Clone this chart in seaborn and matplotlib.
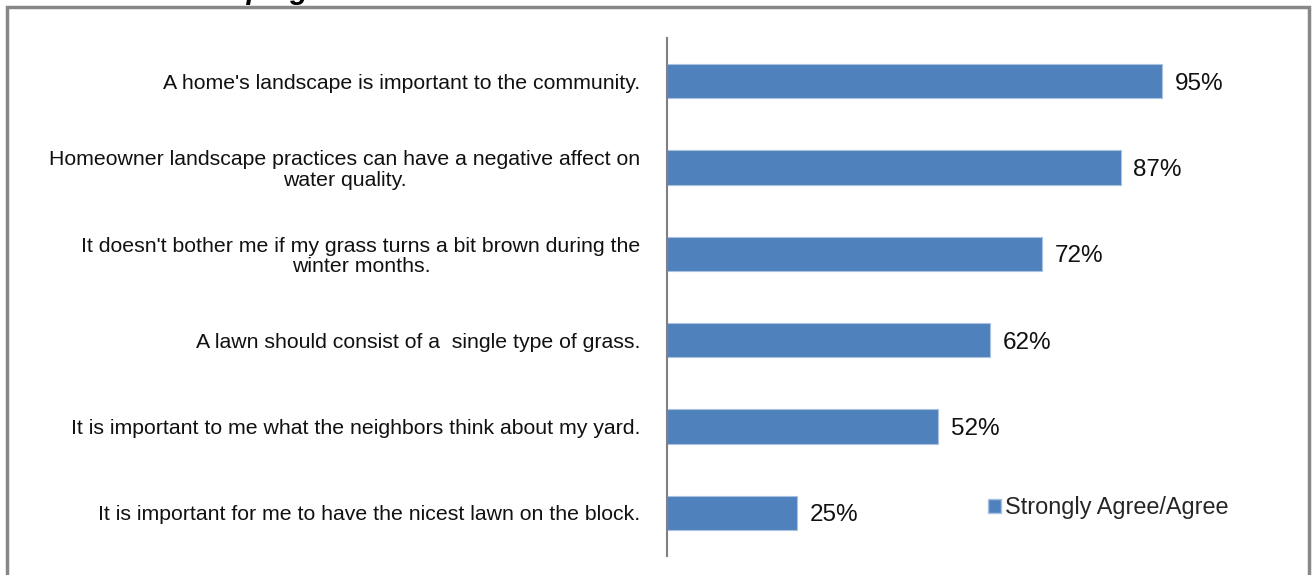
import matplotlib
matplotlib.use("Agg")
import matplotlib.pyplot as plt
import seaborn as sns
import pandas as pd
from matplotlib.patches import Rectangle, Patch

chart_title = "Chart 6: Landscaping Issues and Attitudes"
statements = [
    "A home's landscape is important to the community.",
    "Homeowner landscape practices can have a negative affect on\nwater quality.",
    "It doesn't bother me if my grass turns a bit brown during the\nwinter months.",
    "A lawn should consist of a  single type of grass.",
    "It is important to me what the neighbors think about my yard.",
    "It is important for me to have the nicest lawn on the block.",
]
agree_pct = [95, 87, 72, 62, 52, 25]
series_name = "Strongly Agree/Agree"

df = pd.DataFrame({"statement": statements, "pct": agree_pct})

sns.set_theme(style="white")
plt.rcParams["font.family"] = ["Liberation Sans", "DejaVu Sans"]

fig = plt.figure(figsize=(13.13, 5.75), dpi=100)
ax = fig.add_axes([0.508, 0.033, 0.397, 0.901])

bar_color = "#4F81BD"
sns.barplot(data=df, x="pct", y="statement", orient="h", color=bar_color,
            saturation=1, width=0.4, edgecolor="#A9C2E0", linewidth=0.8, ax=ax)

ax.set_xlim(0, 100)
ax.set_ylim(5.5, -0.5)
ax.set_xlabel("")
ax.set_ylabel("")
ax.set_xticks([])
for s in ["top", "right", "bottom"]:
    ax.spines[s].set_visible(False)
ax.spines["left"].set_color("#808080")
ax.spines["left"].set_linewidth(1.5)

ax.set_yticks(range(len(statements)))
ax.set_yticklabels(statements, fontsize=15.3, color="#111111",
                   multialignment="center", linespacing=1.1)
ax.tick_params(axis="y", length=0, pad=19)

for i, v in enumerate(agree_pct):
    ax.text(v + 2.4, i, f"{v}%", va="center_baseline", ha="left", fontsize=17.5,
            color="#111111", clip_on=False)

leg = fig.legend(handles=[Patch(facecolor=bar_color, edgecolor="#A9C2E0")],
                 labels=[series_name], loc="center left",
                 bbox_to_anchor=(0.7365, 0.117), frameon=False, fontsize=16.9,
                 handlelength=0.55, handleheight=0.55, handletextpad=0.15)

# chart title, sitting above the frame
fig.text(10 / 1313, 1 + 1 / 575, chart_title, ha="left", va="baseline",
         fontsize=21, fontweight="bold", fontstyle="italic", color="black")

# outer chart frame
fig.patches.append(Rectangle((7 / 1313, -0.05), 1302 / 1313, 1.05 - 7 / 575,
                             transform=fig.transFigure, fill=False,
                             edgecolor="#888888", linewidth=2.5))

fig.savefig("out.png", dpi=100, facecolor="white")
